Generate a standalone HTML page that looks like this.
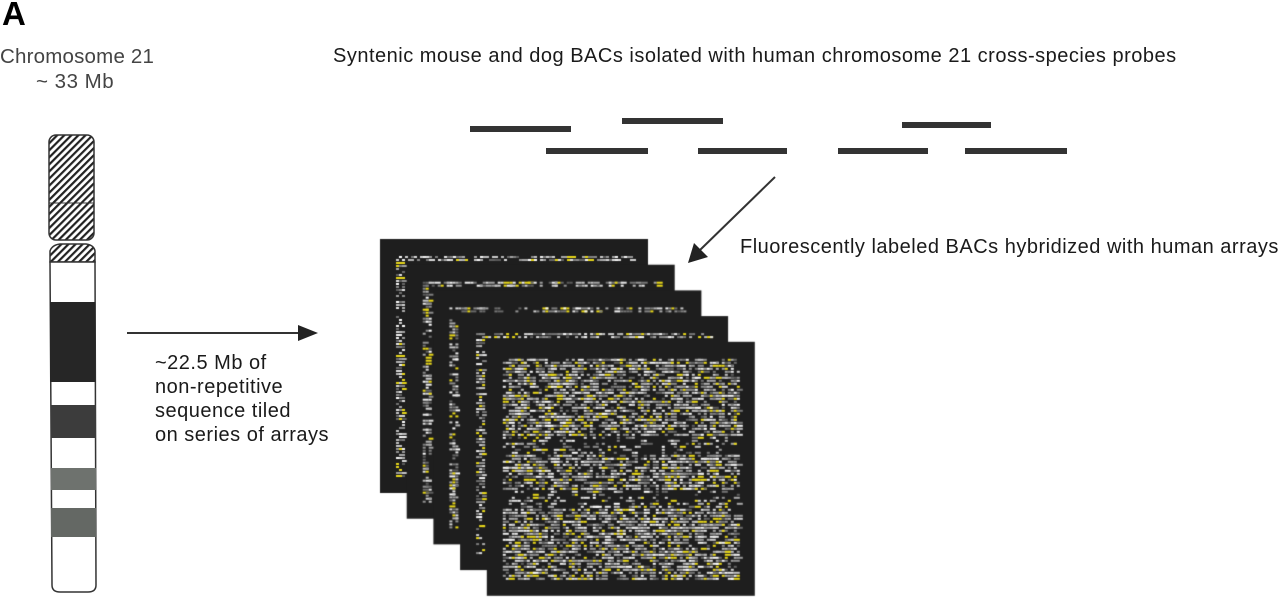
<!DOCTYPE html>
<html><head><meta charset="utf-8"><style>
body{margin:0;width:1280px;height:604px;background:#fff;position:relative;overflow:hidden;font-family:"Liberation Sans",sans-serif;color:#1a1a1a}
.t{position:absolute;white-space:nowrap;font-size:20px;letter-spacing:0.5px}
.bar{position:absolute;height:6px;background:#333}
</style></head><body>
<div class="t" style="left:2px;top:-5px;font-size:33px;font-weight:bold;color:#000;letter-spacing:0">A</div>
<div class="t" style="left:0;top:45px;font-size:20.5px;color:#444;letter-spacing:0.2px">Chromosome 21</div>
<div class="t" style="left:36px;top:70px;font-size:20.5px;color:#444">~ 33 Mb</div>
<div class="t" style="left:333px;top:45px">Syntenic mouse and dog BACs isolated with human chromosome 21 cross-species probes</div>
<div class="t" style="left:740px;top:236px">Fluorescently labeled BACs hybridized with human arrays</div>
<div class="t" style="left:155px;top:351px;line-height:24px">~22.5 Mb of<br>non-repetitive<br>sequence tiled<br>on series of arrays</div>

<div class="bar" style="left:470px;top:126px;width:101px"></div>
<div class="bar" style="left:622px;top:118px;width:101px"></div>
<div class="bar" style="left:902px;top:122px;width:89px"></div>
<div class="bar" style="left:546px;top:148px;width:102px"></div>
<div class="bar" style="left:698px;top:148px;width:89px"></div>
<div class="bar" style="left:838px;top:148px;width:90px"></div>
<div class="bar" style="left:965px;top:148px;width:102px"></div>

<svg width="1280" height="604" style="position:absolute;left:0;top:0">
<defs>
<pattern id="h" width="5" height="5" patternUnits="userSpaceOnUse" patternTransform="rotate(45)">
<rect width="5" height="5" fill="#fff"/><rect width="2.2" height="5" fill="#222"/></pattern>
</defs>
<line x1="127" y1="333" x2="302" y2="333" stroke="#333" stroke-width="2"/>
<polygon points="318,333 298,325 298,341" fill="#222"/>
<line x1="775" y1="177" x2="700" y2="250" stroke="#333" stroke-width="2"/>
<polygon points="688,263 694,243 708,257" fill="#222"/>
<rect x="49" y="135" width="45" height="105" rx="7" fill="url(#h)" stroke="#333" stroke-width="1.5"/>
<line x1="49" y1="203" x2="94" y2="203" stroke="#333"/>
<path d="M50,262 L50,251 Q52,245 60,244 L86,244 Q94,245 95,251 L95,262 Z" fill="url(#h)" stroke="#333" stroke-width="1.5"/>
<path d="M50,262 L52,585 Q52,592 60,592 L88,592 Q96,592 96,585 L95,262 Z" fill="#fff" stroke="#333" stroke-width="1.5"/>
<rect x="50" y="302" width="45.5" height="80" fill="#262626"/>
<rect x="51" y="405" width="45" height="33" fill="#3c3c3c"/>
<rect x="51" y="468" width="45" height="22" fill="#6e726e"/>
<rect x="51" y="508" width="45" height="29" fill="#646864"/>
</svg>
<canvas id="c" width="1280" height="604" style="position:absolute;left:0;top:0"></canvas>
<script>
var c=document.getElementById('c').getContext('2d');
var s=12345;function r(){s=(s*1103515245+12345)%2147483648;return s/2147483648;}
function cell(x,y,dense){var v=r();if(v<dense){var q=r();if(q<0.15)c.fillStyle='#e8d81a';else{var g=Math.floor(90+r()*165);c.fillStyle='rgb('+g+','+g+','+g+')';}c.fillRect(x,y,3+(r()<0.3?3:0),2);}}
for(var i=0;i<5;i++){
 var x0=380+i*26.7,y0=239+i*25.7,w=268,h=254;
 c.fillStyle='#1e1e1e';c.fillRect(x0,y0,w,h);
 var ix=x0+16,iy=y0+17;
 for(var y=iy;y<iy+220;y+=3){
  var band=((y-iy)>75&&(y-iy)<95)||((y-iy)>130&&(y-iy)<150)?0.25:0.6;
  for(var x=ix;x<ix+235;x+=3){
   if(i<4){ if(y<iy+5||x<ix+8) cell(x,y,0.6);} else cell(x,y,band);
  }
 }
}
</script>
</body></html>
